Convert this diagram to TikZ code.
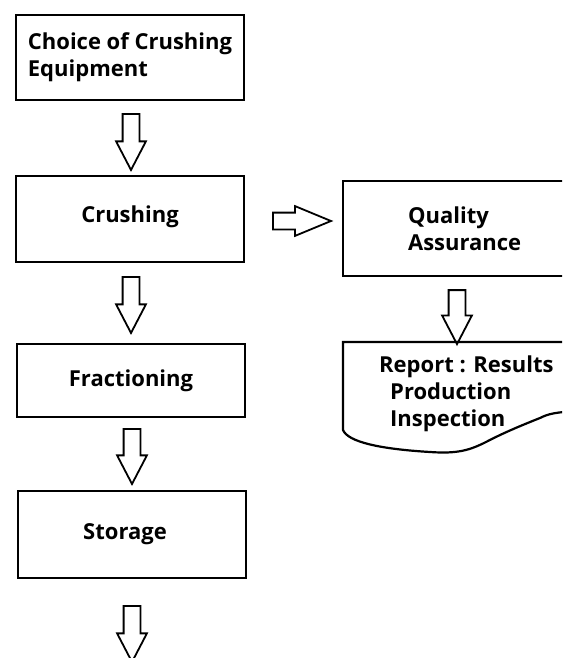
\documentclass[tikz,border=0pt]{standalone}
\usepackage{fontspec}
\setmainfont{Open Sans}
\usetikzlibrary{shapes.arrows}

\begin{document}
\begin{tikzpicture}[x={(1pt,0pt)}, y={(0pt,-1pt)}]
%styles
\tikzstyle{stageBox}=[rectangle, draw, line width=2.2pt, minimum width=228pt, text=black, font=\fontsize{22}{27}\selectfont\bfseries]
\tikzstyle{textLine}=[inner sep=0pt, align=left, text=black, font=\fontsize{22}{27}\selectfont\bfseries]
\tikzstyle{flowArrow}=[single arrow, draw, line width=1.8pt, inner xsep=0pt, inner ysep=7.5pt, single arrow head extend=6.5pt, single arrow tip angle=55, minimum height=56pt, rotate=-90, anchor=tail]
\useasboundingbox (0,0) rectangle (562,658);
\clip (0,0) rectangle (562,658);
%figure
\node[stageBox, minimum height=85pt, align=left] (choice) at (130,57.5) {Choice of Crushing\\Equipment};
\node[stageBox, minimum height=86pt, text depth=10pt] (crush) at (130,219) {Crushing};
\node[stageBox, minimum height=73pt] (fract) at (131,380.5) {Fractioning};
\node[stageBox, minimum height=87pt] (store) at (132,534.5) {Storage\hspace*{14pt}};
% quality side
\node[stageBox, anchor=north west, minimum height=95pt, text width=150pt, inner xsep=65pt, align=left] (qa) at (342,180) {Quality\\Assurance};
\draw[line width=2.2pt] (343,342) -- (343,430) .. controls (348,442) and (380,449) .. (430,452)
  .. controls (458,454) and (470,450) .. (486,442) .. controls (505,432) and (525,424) .. (540,418)
  .. controls (548,414) and (555,412) .. (580,411) -- (580,342) -- cycle;
\node[textLine, anchor=west] (report) at (379,394) {Report : Results\\\hspace{11pt}Production\\\hspace{11pt}Inspection};
%arrows
\node[flowArrow] (a1) at ([shift={(1,12)}]choice.south) {};
\node[flowArrow] (a2) at ([shift={(1,13)}]crush.south) {};
\node[flowArrow, minimum height=55pt] (a3) at ([shift={(1,10)}]fract.south) {};
\node[flowArrow] (a4) at ([shift={(0,26)}]store.south) {};
\node[flowArrow, minimum height=58pt, rotate=90, single arrow tip angle=45] (side) at ([shift={(27,2)}]crush.east) {};
\node[flowArrow, minimum height=54pt] (a5) at ([shift={(115,12)}]qa.south west) {};
\end{tikzpicture}
\end{document}
